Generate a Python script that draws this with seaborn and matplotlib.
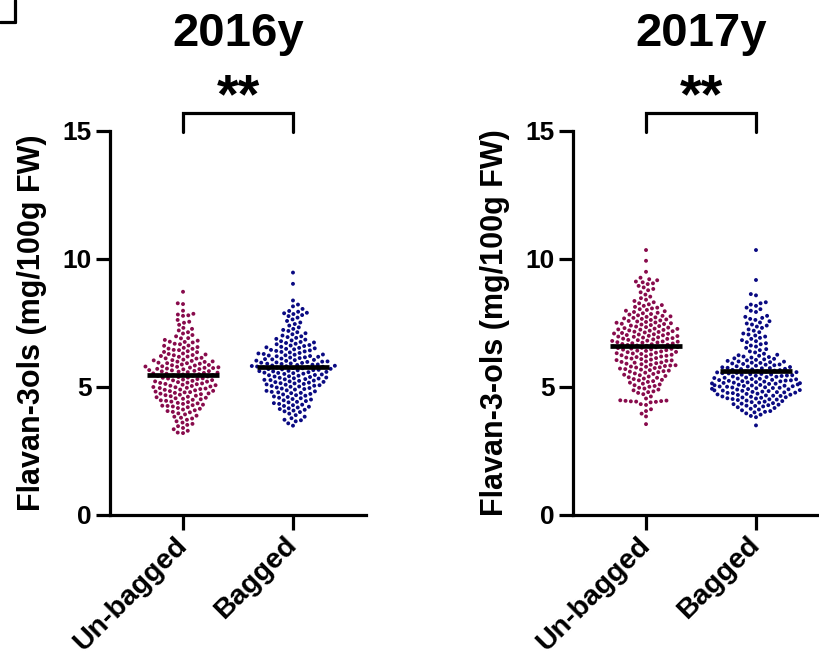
import numpy as np
import pandas as pd
import matplotlib
matplotlib.use("Agg")
import matplotlib.pyplot as plt
import seaborn as sns
from matplotlib.lines import Line2D

groups = ["Un-bagged", "Bagged"]
years = ["2016y", "2017y"]
ylabels = ["Flavan-3ols (mg/100g FW)", "Flavan-3-ols (mg/100g FW)"]

y2016_unbagged = [
    8.72, 8.24, 8.27, 7.98, 7.83, 7.80, 7.78, 7.86, 7.62, 7.55, 7.51, 7.43, 7.31, 7.27,
    7.21, 7.14, 7.09, 7.03,
    6.98, 6.91, 6.90, 6.84, 6.81, 6.77, 6.76,
    6.74, 6.69, 6.67, 6.62, 6.61, 6.56, 6.53, 6.50,
    6.49, 6.45, 6.44, 6.40, 6.37, 6.36, 6.31, 6.29, 6.27, 6.25,
    6.24, 6.21, 6.19, 6.18, 6.14, 6.12, 6.11, 6.07, 6.05, 6.04, 6.02, 6.00,
    5.99, 5.98, 5.95, 5.93, 5.93, 5.91, 5.88, 5.86, 5.85, 5.84, 5.81, 5.80, 5.79, 5.77, 5.76, 5.75,
    5.74, 5.72, 5.71, 5.70, 5.69, 5.66, 5.65, 5.63, 5.62, 5.61, 5.60, 5.58, 5.56, 5.55, 5.53, 5.52, 5.50,
    5.49, 5.47, 5.46, 5.44, 5.43, 5.41, 5.39, 5.37, 5.36, 5.34, 5.33, 5.31, 5.29, 5.27, 5.26,
    5.24, 5.22, 5.21, 5.19, 5.17, 5.16, 5.14, 5.12, 5.11, 5.09, 5.07, 5.05, 5.04, 5.02, 5.00,
    4.99, 4.97, 4.96, 4.94, 4.92, 4.90, 4.89, 4.87, 4.85, 4.84, 4.82, 4.80, 4.79, 4.77, 4.75,
    4.74, 4.72, 4.70, 4.68, 4.66, 4.64, 4.62, 4.60, 4.58, 4.56, 4.54, 4.52, 4.50,
    4.48, 4.46, 4.43, 4.41, 4.38, 4.36, 4.34, 4.31, 4.29, 4.27, 4.26,
    4.24, 4.21, 4.18, 4.15, 4.12, 4.09, 4.06, 4.03, 4.01,
    3.97, 3.93, 3.88, 3.84, 3.80, 3.77,
    3.72, 3.66, 3.61, 3.56, 3.52,
    3.47, 3.40, 3.35, 3.29, 3.22, 3.20,
]

y2016_bagged = [
    9.47, 9.03, 8.38, 8.22, 8.15, 8.05,
    7.97, 7.94, 7.90, 7.88, 7.85, 7.81, 7.77,
    7.71, 7.64, 7.58, 7.52,
    7.46, 7.40, 7.33, 7.27,
    7.23, 7.19, 7.14, 7.10, 7.06, 7.01,
    6.98, 6.95, 6.92, 6.88, 6.85, 6.82, 6.79, 6.76,
    6.74, 6.72, 6.69, 6.67, 6.64, 6.62, 6.60, 6.57, 6.55, 6.53, 6.51,
    6.49, 6.47, 6.45, 6.43, 6.41, 6.39, 6.37, 6.35, 6.33, 6.31, 6.29, 6.27, 6.26,
    6.24, 6.23, 6.21, 6.20, 6.18, 6.16, 6.15, 6.13, 6.11, 6.09, 6.08, 6.06, 6.05, 6.03, 6.02, 6.00,
    5.99, 5.98, 5.96, 5.95, 5.94, 5.92, 5.91, 5.90, 5.88, 5.87, 5.86, 5.84, 5.83, 5.82, 5.81, 5.80,
    5.79, 5.78, 5.77, 5.76,
    5.74, 5.73, 5.71, 5.70, 5.69, 5.67, 5.66, 5.65, 5.63, 5.62, 5.61, 5.59, 5.58, 5.56, 5.55, 5.54,
    5.52, 5.51,
    5.49, 5.47, 5.46, 5.44, 5.42, 5.41, 5.39, 5.37, 5.36, 5.34, 5.33, 5.31, 5.30, 5.28, 5.27, 5.25,
    5.24, 5.22, 5.20, 5.19, 5.17, 5.15, 5.14, 5.12, 5.10, 5.09, 5.07, 5.05, 5.04, 5.02, 5.01,
    4.98, 4.96, 4.94, 4.92, 4.90, 4.87, 4.85, 4.83, 4.81, 4.79, 4.77, 4.76,
    4.73, 4.71, 4.68, 4.66, 4.63, 4.61, 4.58, 4.56, 4.53, 4.51,
    4.48, 4.45, 4.42, 4.40, 4.37, 4.34, 4.31, 4.29, 4.26,
    4.23, 4.20, 4.17, 4.14, 4.11, 4.08, 4.05, 4.02,
    3.96, 3.90, 3.84, 3.78,
    3.72, 3.70, 3.66, 3.58, 3.49,
]

y2017_unbagged = [
    10.35, 9.93, 9.50, 9.27,
    9.21, 9.17, 9.12, 9.09, 9.05, 9.02,
    8.95, 8.89, 8.83, 8.78,
    8.70, 8.61, 8.53,
    8.47, 8.41, 8.36, 8.31, 8.27,
    8.23, 8.20, 8.17, 8.13, 8.10, 8.07, 8.04, 8.01,
    7.98, 7.96, 7.93, 7.90, 7.88, 7.85, 7.83, 7.80, 7.78, 7.76,
    7.74, 7.72, 7.70, 7.68, 7.66, 7.64, 7.62, 7.60, 7.58, 7.56, 7.54, 7.52, 7.51,
    7.49, 7.47, 7.46, 7.44, 7.42, 7.40, 7.38, 7.36, 7.34, 7.32, 7.30, 7.28, 7.27, 7.25,
    7.24, 7.23, 7.21, 7.20, 7.18, 7.16, 7.15, 7.13, 7.11, 7.09, 7.08, 7.06, 7.05, 7.03, 7.02, 7.00,
    6.99, 6.97, 6.96, 6.94, 6.93, 6.91, 6.89, 6.88, 6.86, 6.84, 6.83, 6.81, 6.80, 6.78, 6.77, 6.75,
    6.74, 6.73, 6.71, 6.70, 6.68, 6.67, 6.65, 6.64, 6.62, 6.61, 6.59, 6.58, 6.56, 6.55, 6.53, 6.52,
    6.50,
    6.49, 6.47, 6.46, 6.44, 6.42, 6.41, 6.39, 6.37, 6.36, 6.34, 6.32, 6.31, 6.29, 6.27, 6.26,
    6.24, 6.22, 6.20, 6.19, 6.17, 6.15, 6.13, 6.11, 6.09, 6.07, 6.05, 6.04, 6.02, 6.00,
    5.98, 5.96, 5.95, 5.93, 5.91, 5.89, 5.87, 5.85, 5.84, 5.82, 5.80, 5.79, 5.77, 5.76,
    5.74, 5.72, 5.70, 5.68, 5.66, 5.64, 5.62, 5.60, 5.58, 5.56, 5.53, 5.51,
    5.48, 5.46, 5.43, 5.41, 5.38, 5.36, 5.33, 5.31, 5.28, 5.26,
    5.23, 5.20, 5.17, 5.13, 5.10, 5.07, 5.04, 5.01,
    4.97, 4.94, 4.90, 4.87, 4.83, 4.80, 4.77,
    4.72, 4.63, 4.55,
    4.48, 4.47, 4.46, 4.45, 4.44, 4.43, 4.42, 4.40, 4.33, 4.30,
    4.13, 4.06, 3.96, 3.85, 3.55,
]

y2017_bagged = [
    10.35, 9.18, 8.63, 8.58,
    8.31, 8.27, 8.22, 8.17,
    8.10, 8.04, 7.98, 7.93,
    7.78, 7.74, 7.70, 7.66, 7.62,
    7.57, 7.52, 7.48, 7.44, 7.40, 7.36,
    7.31, 7.25, 7.20, 7.14, 7.09, 7.05, 7.01,
    6.97, 6.92, 6.88, 6.83, 6.79, 6.75, 6.71,
    6.67, 6.62, 6.58, 6.53, 6.48, 6.44, 6.39, 6.35, 6.30, 6.26,
    6.24, 6.22, 6.19, 6.17, 6.15, 6.12, 6.10, 6.08, 6.06, 6.04, 6.02, 6.00,
    5.99, 5.97, 5.95, 5.94, 5.92, 5.90, 5.88, 5.87, 5.85, 5.83, 5.81, 5.80, 5.78, 5.77, 5.75,
    5.74, 5.73, 5.71, 5.70, 5.69, 5.67, 5.66, 5.64, 5.63, 5.61, 5.60, 5.58, 5.57, 5.55, 5.54,
    5.53, 5.51, 5.50,
    5.49, 5.48, 5.46, 5.45, 5.44, 5.43, 5.41, 5.40, 5.39, 5.37, 5.36, 5.35, 5.33, 5.32, 5.31,
    5.30, 5.28, 5.27, 5.26, 5.25,
    5.24, 5.23, 5.22, 5.21, 5.19, 5.18, 5.17, 5.16, 5.15, 5.14, 5.13, 5.12, 5.10, 5.09, 5.08,
    5.07, 5.06, 5.05, 5.04, 5.03, 5.02, 5.01,
    4.99, 4.98, 4.97, 4.96, 4.95, 4.93, 4.92, 4.91, 4.90, 4.88, 4.87, 4.86, 4.85, 4.84, 4.82,
    4.81, 4.80, 4.79, 4.78, 4.77, 4.76,
    4.74, 4.73, 4.71, 4.70, 4.69, 4.67, 4.66, 4.65, 4.63, 4.62, 4.60, 4.59, 4.58, 4.56, 4.55,
    4.53, 4.52, 4.51,
    4.49, 4.47, 4.45, 4.43, 4.41, 4.39, 4.37, 4.35, 4.33, 4.31, 4.29, 4.27, 4.26,
    4.24, 4.21, 4.18, 4.15, 4.12, 4.09, 4.06, 4.03, 4.01,
    3.97, 3.92, 3.87, 3.82,
    3.50,
]

panel_data = [
    (y2016_unbagged, y2016_bagged),
    (y2017_unbagged, y2017_bagged),
]
palette = {"Un-bagged": "#880B4C", "Bagged": "#0A0A82"}

sns.set_theme(style="ticks")
plt.rcParams["font.family"] = ["Liberation Sans", "DejaVu Sans"]
plt.rcParams["font.weight"] = "bold"
plt.rcParams["axes.labelweight"] = "bold"

W, H = 819, 661
fig = plt.figure(figsize=(W / 100, H / 100), dpi=100)
lefts = [110, 573]
axw, axh, axb = 256, 384, 146

for k in range(2):
    ax = fig.add_axes([lefts[k] / W, axb / H, axw / W, axh / H])
    un, bg = panel_data[k]
    df = pd.DataFrame({
        "group": [groups[0]] * len(un) + [groups[1]] * len(bg),
        "value": list(un) + list(bg),
    })
    sns.swarmplot(data=df, x="group", y="value", hue="group", order=groups,
                  hue_order=groups, palette=palette, size=2.8, ax=ax,
                  legend=False, zorder=2)
    for coll in ax.collections:
        coll.set_edgecolor("none")
        coll.set_linewidth(0.85)
    means = df.groupby("group")["value"].mean()
    for i, g in enumerate(groups):
        ax.hlines(means[g], i - 0.33, i + 0.33, color="black", lw=3.4, zorder=5)

    ax.set_xlim(-0.664, 1.664)
    ax.set_ylim(0, 15)
    ax.set_yticks([0, 5, 10, 15])
    for s in ["top", "right"]:
        ax.spines[s].set_visible(False)
    for s in ["left", "bottom"]:
        ax.spines[s].set_linewidth(2.3)
        ax.spines[s].set_color("black")
    ax.tick_params(axis="y", length=10, width=2.3, labelsize=19, pad=3, colors="black")
    ax.tick_params(axis="x", length=11, width=2.3, labelsize=20.5, pad=8, colors="black")
    ax.set_xlabel("")
    ax.set_ylabel(ylabels[k], fontsize=22, fontweight="bold", labelpad=11, color="black")
    for lab in ax.get_xticklabels():
        lab.set_rotation(45)
        lab.set_ha("right")
        lab.set_va("center")
        lab.set_rotation_mode("anchor")
        lab.set_fontweight("bold")
    for lab in ax.get_yticklabels():
        lab.set_fontweight("bold")

    ax.set_title(years[k], fontsize=34, fontweight="bold", y=1.222, pad=0, color="black")
    ax.plot([0, 0, 1, 1], [14.98, 15.7, 15.7, 14.98], color="black", lw=2.3,
            clip_on=False, solid_joinstyle="miter")
    ax.text(0.5, 15.72, "**", ha="center", va="baseline", fontsize=40,
            fontweight="bold", color="black", clip_on=False)

fig.add_artist(Line2D([15 / W, 15 / W], [1, 1 - 22 / H], transform=fig.transFigure,
                      color="black", lw=2.3))
fig.add_artist(Line2D([0, 15 / W], [1 - 22 / H, 1 - 22 / H], transform=fig.transFigure,
                      color="black", lw=2.3))

fig.savefig("out.png", dpi=100)
